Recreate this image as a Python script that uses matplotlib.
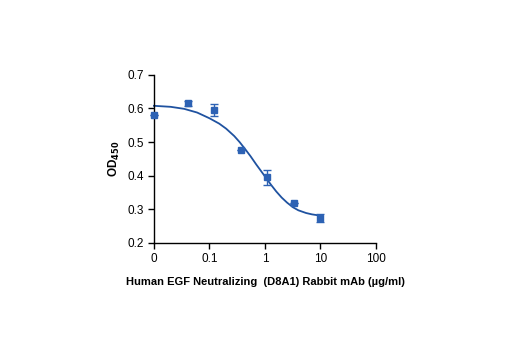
import numpy as np
import matplotlib
matplotlib.use("Agg")
import matplotlib.pyplot as plt

plt.rcParams['font.family'] = ['Liberation Sans Narrow', 'Liberation Sans', 'DejaVu Sans']

# concentrations (ug/ml); 0 is drawn at the 0.01 position of the log axis
conc = [0.01, 0.041, 0.123, 0.37, 1.11, 3.33, 10]
od = [0.581, 0.615, 0.595, 0.476, 0.395, 0.318, 0.275]
err = [0.0, 0.008, 0.017, 0.0, 0.022, 0.0, 0.012]

# fitted curve
curve_x = [0.01, 0.02, 0.035, 0.06, 0.1, 0.15, 0.2, 0.28, 0.35, 0.45, 0.55, 0.7,
           0.85, 1.05, 1.3, 1.6, 2.0, 2.5, 3.2, 4.0, 5.5, 7.0, 10]
curve_y = [0.608, 0.605, 0.599, 0.588, 0.571, 0.555, 0.540, 0.518, 0.500, 0.477,
           0.458, 0.433, 0.414, 0.393, 0.372, 0.353, 0.335, 0.320, 0.306, 0.297,
           0.289, 0.285, 0.281]

xticks = [0.01, 0.1, 1, 10, 100]
xticklabels = ['0', '0.1', '1', '10', '100']
yticks = [0.2, 0.3, 0.4, 0.5, 0.6, 0.7]

fig = plt.figure(figsize=(5.2, 3.5), dpi=100)
ax = fig.add_axes([0.296, 0.306, 0.427, 0.48])

ax.plot(curve_x, curve_y, color='#1f52a0', lw=1.3, zorder=2, clip_on=False)
eb = ax.errorbar(conc, od, yerr=err, fmt='s', color='#2d62b4', ms=5, capsize=3,
                 elinewidth=1, capthick=1, zorder=3)
for art in eb.lines[0:1] + tuple(eb.lines[1]) + tuple(eb.lines[2]):
    art.set_clip_on(False)

ax.set_xscale('log')
ax.set_xlim(0.01, 100)
ax.set_ylim(0.2, 0.7)
ax.set_xticks(xticks)
ax.set_xticklabels(xticklabels)
ax.xaxis.set_minor_locator(matplotlib.ticker.NullLocator())
ax.set_yticks(yticks)
ax.set_yticklabels([f'{v:.1f}' for v in yticks])
ax.tick_params(labelsize=8.5, length=4, width=1, color='black', pad=3)

for s in ['top', 'right']:
    ax.spines[s].set_visible(False)
for s in ['left', 'bottom']:
    ax.spines[s].set_linewidth(1)

ax.set_xlabel('Human EGF Neutralizing  (D8A1) Rabbit mAb (µg/ml)',
              fontsize=8, fontweight='bold', labelpad=9)
ax.set_ylabel(r'OD$_{\mathbf{450}}$', fontsize=8.5, fontweight='bold', labelpad=4)

fig.savefig('out.png', dpi=100, facecolor='white')
